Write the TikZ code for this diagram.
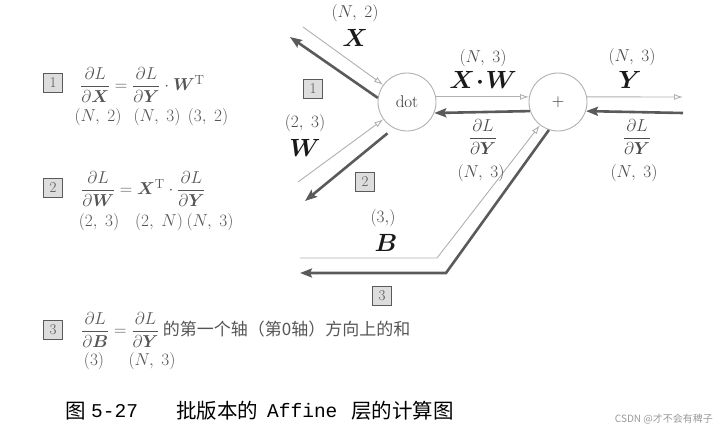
\documentclass[tikz,border=0pt]{standalone}
\usepackage{amsmath,bm}
\usepackage{fontspec}
\newfontfamily\cjk{Noto Sans CJK SC}
\newfontfamily\monof{Liberation Mono}
\usetikzlibrary{arrows.meta}
\definecolor{lightarr}{HTML}{B0B0B0}
\definecolor{darkarr}{HTML}{5A5A5A}
\definecolor{txtgray}{HTML}{555555}
\definecolor{boxfill}{HTML}{DDDDDD}
\begin{document}
\begin{tikzpicture}[x=1pt,y=-1pt,
  fwd/.style={draw=lightarr, line width=0.9pt, -{Latex[open,length=9pt,width=6pt]}},
  bwd/.style={draw=darkarr, line width=2.6pt, -{Stealth[length=12pt,width=9pt,inset=2pt]}},
  gate/.style={circle, draw=lightarr, line width=0.9pt, minimum size=58pt, inner sep=0pt, font=\fontsize{17}{17}\selectfont, text=black!80},
  numbox/.style={draw=darkarr, fill=boxfill, line width=1.2pt, minimum size=19pt, inner sep=0pt, font=\fontsize{15}{15}\selectfont, text=txtgray},
  dimlab/.style={font=\fontsize{17}{17}\selectfont, text=black!70, inner sep=0pt},
  biglab/.style={font=\fontsize{25}{25}\selectfont, text=black!90, inner sep=0pt},
  fraclab/.style={font=\fontsize{16}{16}\selectfont, text=black!70, inner sep=0pt},
  formula/.style={font=\fontsize{19}{19}\selectfont, text=txtgray, inner sep=0pt, anchor=west},
  fdim/.style={font=\fontsize{17}{17}\selectfont, text=txtgray, inner sep=0pt},
  capcjk/.style={font=\cjk\fontsize{20.5}{20.5}\selectfont, text=black, inner sep=0pt, anchor=west},
  capmono/.style={font=\monof\fontsize{19.5}{19.5}\selectfont, text=black, inner sep=0pt, anchor=west}
]
\useasboundingbox (0,0) rectangle (726,436);

% gates
\node[gate] (dot) at (407,102) {dot};
\node[gate] (plus) at (558,102) {$+$};

% coordinates
\coordinate (xin) at (303,27);
\coordinate (xout) at (290,37);
\coordinate (win) at (298,182);
\coordinate (wout) at (305,201);
\coordinate (yout) at (683,97);
\coordinate (yin) at (683,113);
\coordinate (bl) at (300,258);
\coordinate (bc) at (437,258);
\coordinate (bdc) at (446,273);
\coordinate (bdl) at (300,273);

% forward (light) arrows
\draw[fwd] (xin) -- (dot);
\draw[fwd] (win) -- (dot);
\draw[fwd] (dot.10) -- (plus.170);
\draw[fwd] (plus.10) -- (yout);
\draw[fwd] (bl) -- (bc) -- (plus.232);

% backward (dark) arrows
\draw[bwd] (dot.172) -- (xout);
\draw[bwd, shorten <=8pt] (dot.243) -- (wout);
\draw[bwd] (plus.198) -- (dot.-22);
\draw[bwd] (yin) -- (plus.-18);
\draw[bwd] (plus.252) -- (bdc) -- (bdl);

% diagram labels
\node[dimlab] (ldx) at (355,13) {$(N,\;2)$};
\node[biglab] (lx) at (355,38) {$\bm{X}$};
\node[dimlab] (ldw) at (305,123) {$(2,\;3)$};
\node[biglab] (lw) at (305,148) {$\bm{W}$};
\node[dimlab] (ldxw) at (483,58) {$(N,\;3)$};
\node[biglab] (lxw) at (483,80) {$\bm{X}\!\bm{\cdot}\!\bm{W}$};
\node[fraclab] (lg1) at (483,137) {$\dfrac{\partial L}{\partial \bm{Y}}$};
\node[dimlab] (ldg1) at (481,173) {$(N,\;3)$};
\node[dimlab] (ldy) at (632,57) {$(N,\;3)$};
\node[biglab] (ly) at (630,80) {$\bm{Y}$};
\node[fraclab] (lg2) at (637,137) {$\dfrac{\partial L}{\partial \bm{Y}}$};
\node[dimlab] (ldg2) at (634,173) {$(N,\;3)$};
\node[dimlab] (ldb) at (383,218) {$(3{,})$};
\node[biglab] (lb) at (386,243) {$\bm{B}$};

\node[numbox] (b1) at (313,89) {1};
\node[numbox] (b2) at (365,182) {2};
\node[numbox] (b3) at (382,296) {3};

% left formulas
\node[numbox] (f1box) at (53,83) {1};
\node[formula] (f1) at (80,85) {$\dfrac{\partial L}{\partial \bm{X}} = \dfrac{\partial L}{\partial \bm{Y}}\cdot \bm{W}^{\mathrm{T}}$};
\node[fdim] (f1d1) at (98,117) {$(N,\;2)$};
\node[fdim] (f1d2) at (157,117) {$(N,\;3)$};
\node[fdim] (f1d3) at (208,117) {$(3,\;2)$};

\node[numbox] (f2box) at (53,188) {2};
\node[formula] (f2) at (81,189) {$\dfrac{\partial L}{\partial \bm{W}} = \bm{X}^{\mathrm{T}}\cdot \dfrac{\partial L}{\partial \bm{Y}}$};
\node[fdim] (f2d1) at (99,222) {$(2,\;3)$};
\node[fdim] (f2d2) at (159,222) {$(2,\;N)$};
\node[fdim] (f2d3) at (210,222) {$(N,\;3)$};

\node[numbox] (f3box) at (53,330) {3};
\node[formula] (f3) at (81,330) {$\dfrac{\partial L}{\partial \bm{B}} = \dfrac{\partial L}{\partial \bm{Y}}$\,{\cjk\fontsize{17}{17}\selectfont 的第一个轴（第0轴）方向上的和}};
\node[fdim] (f3d1) at (94,361) {$(3)$};
\node[fdim] (f3d2) at (152,361) {$(N,\;3)$};

% caption
\node[capcjk] (cap1) at (65,411) {图};
\node[capmono] (cap2) at (91,411) {5-27};
\node[capcjk] (cap3) at (176,411) {批版本的};
\node[capmono] (cap4) at (267,411) {Affine};
\node[capcjk] (cap5) at (351,411) {层的计算图};
\node[anchor=east, inner sep=0pt, font=\fontsize{10}{10}\selectfont, text=black!40] (wm) at (713,419)
  {{\cjk CSDN @才不会有稗子}};
\end{tikzpicture}
\end{document}
